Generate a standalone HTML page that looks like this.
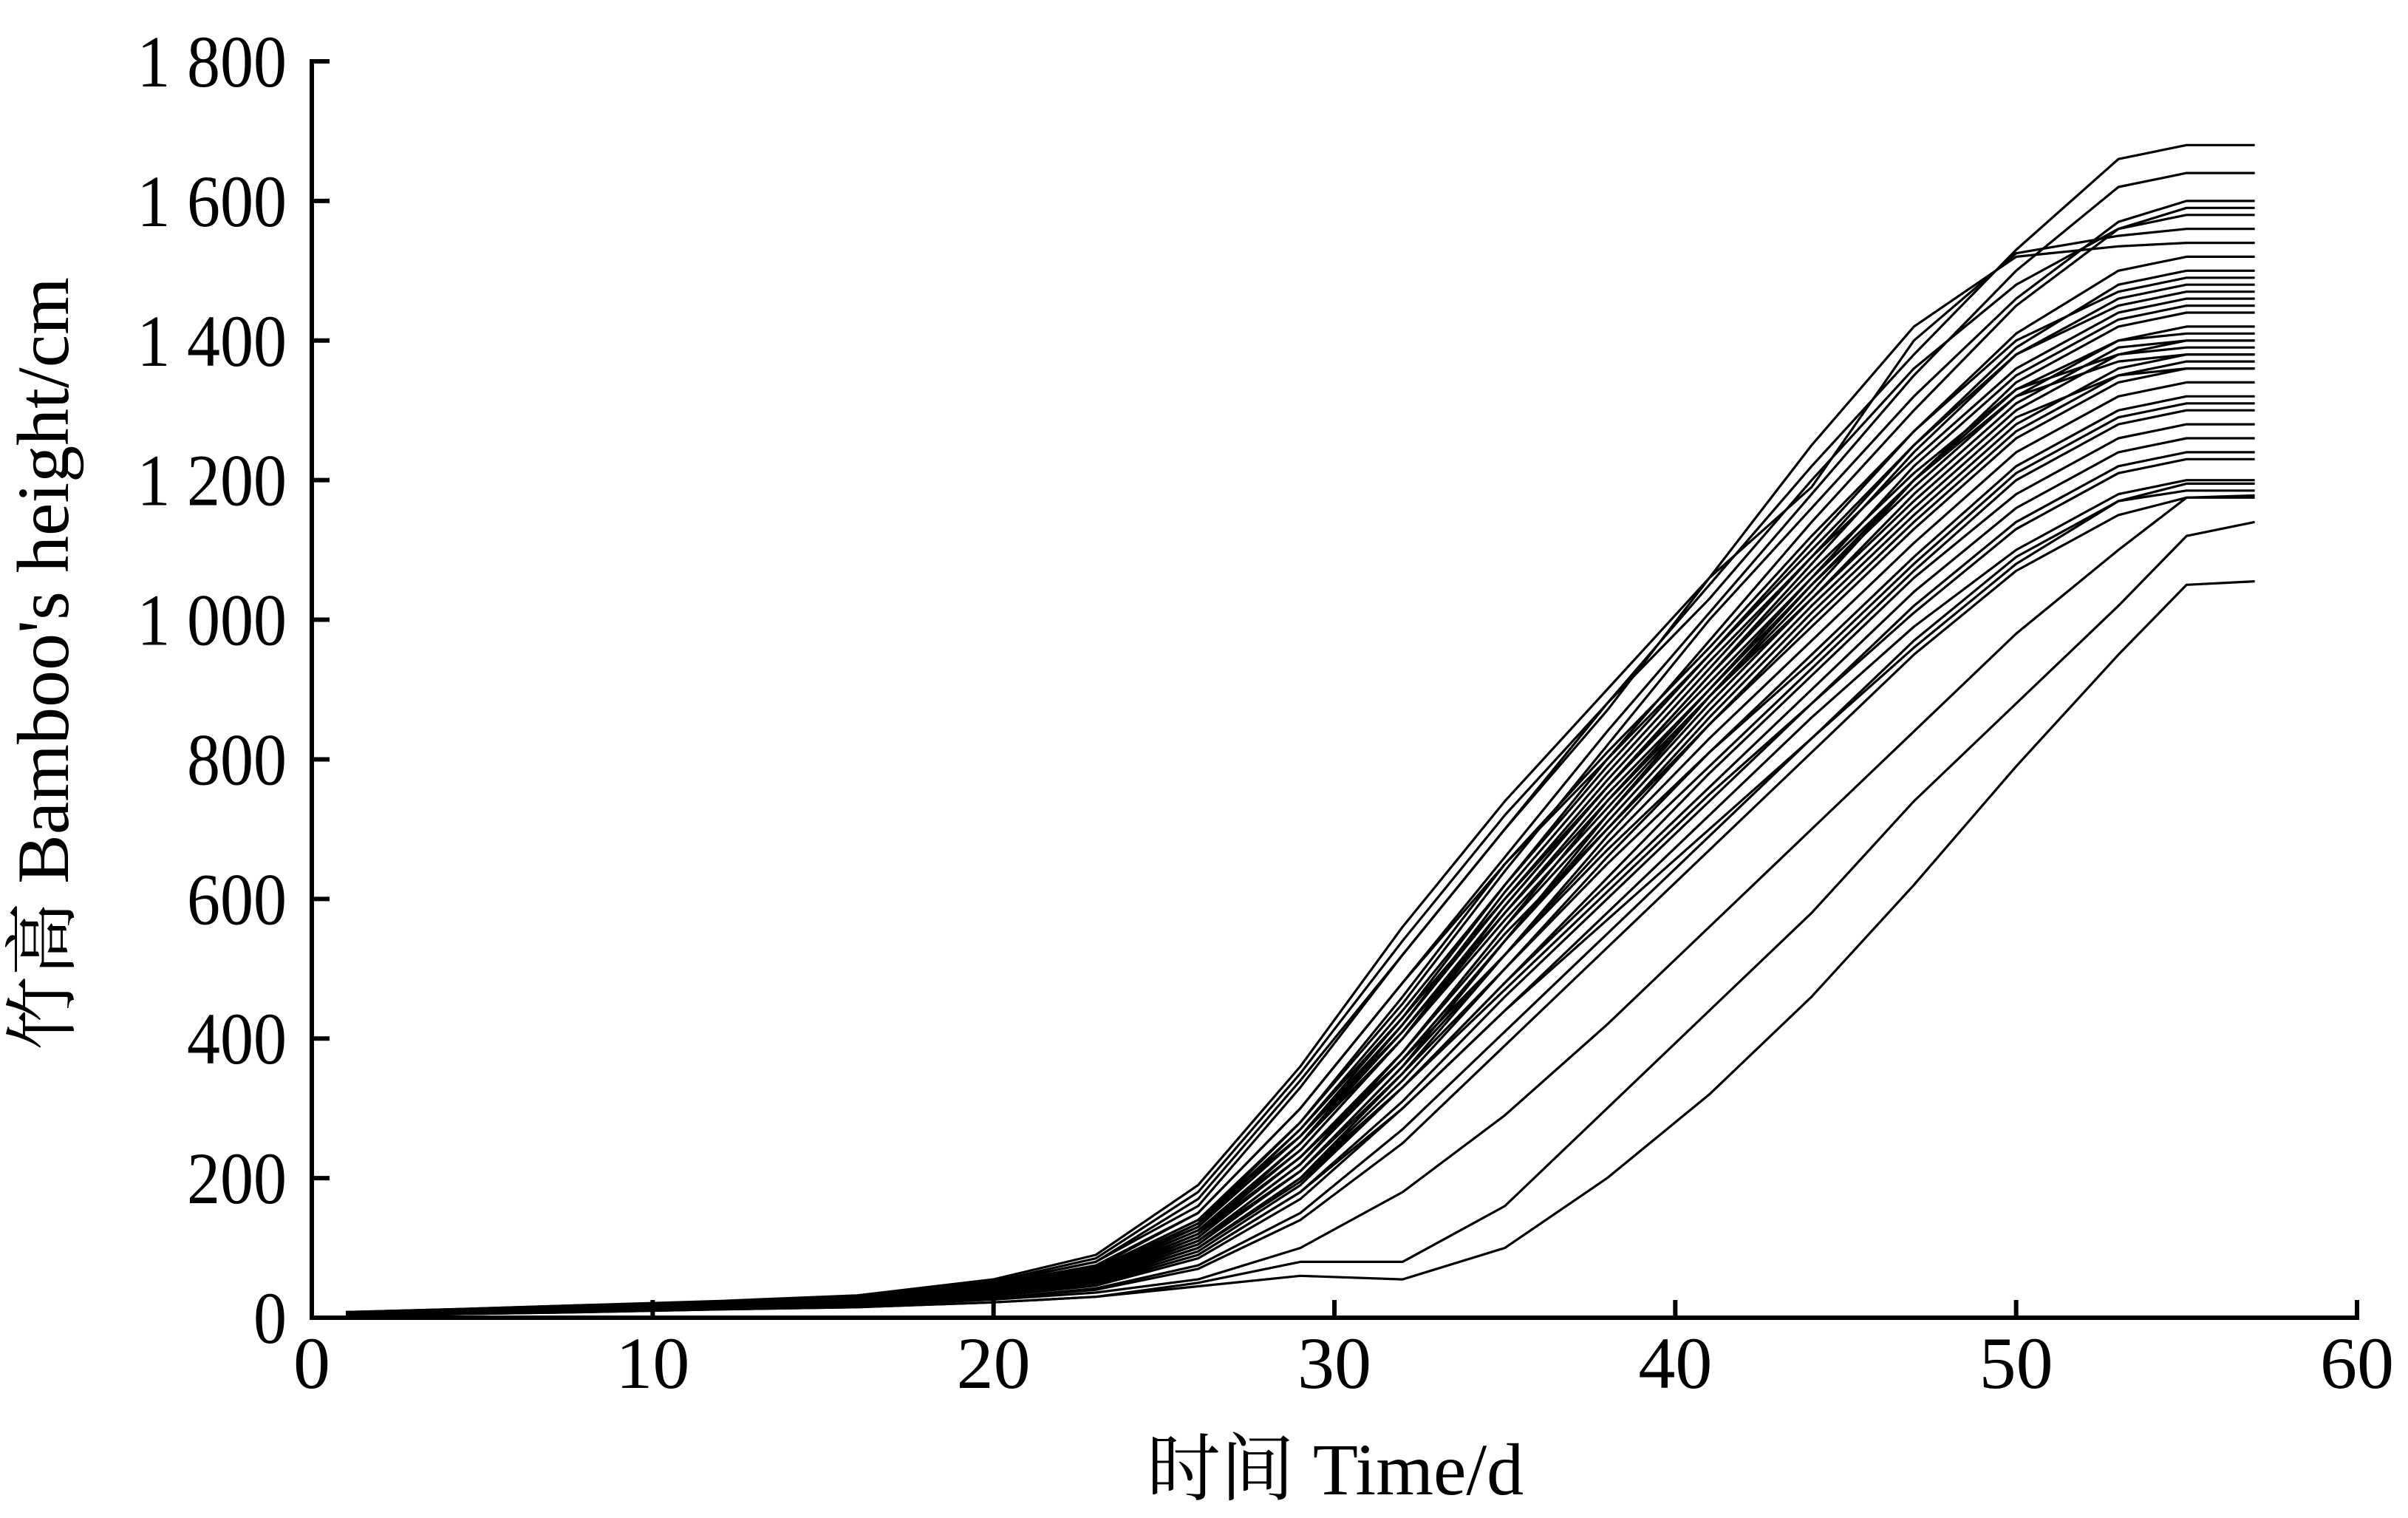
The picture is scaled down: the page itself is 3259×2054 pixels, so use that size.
<!DOCTYPE html>
<html><head><meta charset="utf-8">
<style>
html,body{margin:0;padding:0;background:#fff;}
svg{display:block;}
text{font-family:"Liberation Serif","Noto Serif CJK SC",serif;fill:#000;}
</style></head>
<body>
<svg id="chart" width="3259" height="2054" viewBox="0 0 3259 2054" xmlns="http://www.w3.org/2000/svg">
<g id="lines"></g>
<g id="axes"></g>
<text x="1807" y="2022" font-size="100" text-anchor="middle">时间 Time/d</text>
<text transform="translate(92,898) rotate(-90)" font-size="100" text-anchor="middle">竹高 Bamboo's height/cm</text>
</svg>
<script>
const days = [1,4,8,12,16,20,23,26,29,32,35,38,41,44,47,50,53,55,57];
const xTicks = [0,10,20,30,40,50,60];
const yTicks = [0,200,400,600,800,1000,1200,1400,1600,1800];
const yTickLabels = ["0","200","400","600","800","1 000","1 200","1 400","1 600","1 800"];
const s01=[8,12,18,22,30,50,80,160,330,520,700,880,1050,1220,1380,1530,1660,1680,1680];
const s02=[6,10,16,22,28,48,75,150,300,480,660,840,1010,1180,1350,1500,1620,1640,1640];
const s03=[5,10,15,20,28,45,70,140,280,450,640,820,1000,1160,1320,1460,1570,1600,1600];
const s04=[5,9,14,20,26,42,65,130,260,430,620,800,970,1140,1300,1450,1560,1580,1580];
const s05=[8,12,18,24,32,55,90,190,360,560,740,900,1060,1190,1400,1525,1550,1560,1560];
const s06=[6,10,15,22,30,50,80,170,340,520,700,870,1060,1250,1420,1520,1535,1540,1540];
const s07=[5,9,14,20,26,44,68,130,270,440,620,790,950,1110,1270,1410,1500,1520,1520];
const s08=[4,8,13,18,24,40,62,120,250,420,600,770,930,1090,1250,1390,1480,1500,1500];
const s09=[5,9,14,19,25,42,64,125,240,400,590,760,920,1080,1240,1380,1460,1480,1480];
const s10=[6,10,15,20,27,44,70,140,260,420,610,780,940,1090,1230,1360,1440,1460,1460];
const s11=[5,9,13,18,24,38,58,110,220,380,560,740,900,1060,1220,1350,1430,1450,1450];
const s12=[4,8,12,17,22,36,55,105,210,360,540,720,890,1050,1200,1340,1420,1440,1440];
const s13=[5,9,14,19,25,40,62,120,240,400,580,750,900,1050,1190,1320,1400,1420,1420];
const s14=[6,10,15,20,26,42,65,130,260,410,580,740,890,1030,1170,1300,1380,1400,1400];
const s15=[5,8,13,18,23,37,56,110,220,370,540,700,860,1010,1150,1280,1360,1380,1380];
const s16=[4,8,12,17,22,35,52,100,200,350,520,690,850,1000,1140,1270,1350,1370,1370];
const s17=[5,9,14,19,24,39,60,115,230,380,550,700,850,990,1130,1260,1340,1360,1360];
const s18=[5,9,13,18,23,36,55,105,210,360,520,680,830,970,1110,1240,1320,1340,1340];
const s19=[4,8,12,16,21,34,52,100,200,340,500,660,810,950,1090,1220,1300,1320,1320];
const s20=[6,10,14,19,25,40,60,120,230,370,520,670,810,940,1080,1210,1290,1310,1310];
const s21=[5,9,13,18,23,37,56,110,210,350,500,650,790,930,1070,1200,1280,1300,1300];
const s22=[4,8,12,17,22,34,50,95,190,330,480,630,780,920,1060,1180,1260,1280,1280];
const s23=[5,8,12,17,22,35,52,100,195,330,480,620,760,900,1040,1160,1240,1260,1260];
const s24=[4,7,11,15,20,32,48,90,180,310,460,600,740,880,1020,1140,1220,1240,1240];
const s25=[5,9,13,18,23,36,54,100,200,330,470,610,750,880,1010,1130,1210,1230,1230];
const s26=[4,7,11,15,20,31,46,85,170,300,440,580,720,860,990,1100,1180,1200,1200];
const s27=[4,8,12,16,21,33,48,90,180,300,440,570,700,830,960,1080,1170,1195,1195];
const s28=[3,6,10,14,18,28,42,75,150,270,410,550,690,830,970,1090,1170,1185,1185];
const s29=[3,6,10,14,18,28,40,70,140,250,390,530,670,810,950,1070,1150,1175,1175];
const s30=[3,6,9,13,17,26,36,55,100,180,290,420,560,700,840,980,1100,1175,1178];
const s31=[3,5,8,12,15,22,30,45,60,55,100,200,320,460,620,790,950,1050,1055];
const s32=[3,5,8,12,15,22,30,50,80,80,160,300,440,580,740,880,1020,1120,1140];
const s33=[5,10,15,20,26,43,66,135,280,460,650,800,950,1100,1250,1380,1450,1470,1470];
const s34=[6,10,15,21,28,46,72,150,300,480,650,810,960,1120,1270,1400,1470,1490,1490];
const s35=[5,9,14,19,25,40,60,120,250,400,570,730,890,1040,1200,1330,1400,1410,1410];
const s36=[4,8,13,18,24,38,58,115,230,380,560,720,880,1030,1180,1310,1390,1400,1400];
const s37=[5,9,14,19,25,41,63,125,250,410,590,760,920,1070,1210,1330,1380,1390,1390];
const s38=[6,10,15,20,27,44,68,135,270,430,600,760,910,1060,1200,1320,1370,1380,1380];
const s39=[5,9,13,18,24,38,58,110,220,370,540,710,870,1020,1160,1290,1350,1360,1360];
const s40=[7,11,17,23,30,52,85,180,350,540,720,880,1030,1200,1360,1480,1560,1590,1590];
const series=[s01,s02,s03,s04,s05,s06,s07,s08,s09,s10,s11,s12,s13,s14,s15,s16,s17,s18,s19,s20,
s21,s22,s23,s24,s25,s26,s27,s28,s29,s30,s31,s32,s33,s34,s35,s36,s37,s38,s39,s40];

const X0=422, X1=3190, Y0=1783, Y1=83;
function xScale(v){return X0+(v-0)/(60-0)*(X1-X0);}
function yScale(v){return Y0-(v-0)/(1800-0)*(Y0-Y1);}
const NS="http://www.w3.org/2000/svg";
const lines=document.getElementById('lines');
series.forEach((s,i)=>{
  const p=document.createElementNS(NS,'polyline');
  p.setAttribute('points',s.map((v,j)=>xScale(days[j]).toFixed(1)+','+yScale(v).toFixed(1)).join(' '));
  p.setAttribute('fill','none');
  p.setAttribute('stroke','#000');
  p.setAttribute('stroke-width','3.2');
  p.setAttribute('stroke-linejoin','round');
  
  
  lines.appendChild(p);
});
const axes=document.getElementById('axes');
function add(tag,attrs,txt){const e=document.createElementNS(NS,tag);for(const k in attrs)e.setAttribute(k,attrs[k]);if(txt!==undefined)e.textContent=txt;axes.appendChild(e);return e;}
const ya=add('line',{x1:X0,y1:Y1-3,x2:X0,y2:Y0+3,stroke:'#000','stroke-width':6});


const xa=add('line',{x1:X0-3,y1:Y0,x2:X1+3,y2:Y0,stroke:'#000','stroke-width':6});


yTicks.forEach((v,i)=>{
  const y=yScale(v);
  const t=add('line',{x1:X0,y1:y,x2:X0+24,y2:y,stroke:'#000','stroke-width':6});
  
  
  const l=add('text',{x:388,y:y+34,'font-size':100,'text-anchor':'end',transform:'translate(388,0) scale(0.9,1) translate(-388,0)'},yTickLabels[i]);
  
  
});
xTicks.forEach(v=>{
  const x=xScale(v);
  const t=add('line',{x1:x,y1:Y0,x2:x,y2:Y0-24,stroke:'#000','stroke-width':6});
  
  
  const l=add('text',{x:x,y:1878,'font-size':100,'text-anchor':'middle'},String(v));
  
  
});
</script>
</body></html>
